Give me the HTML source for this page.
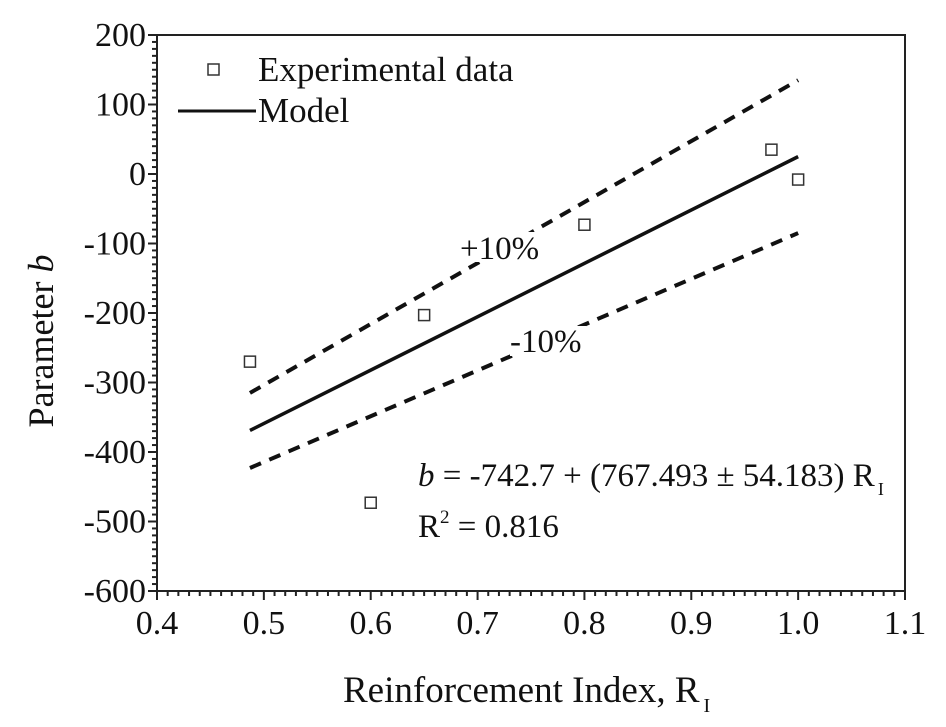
<!DOCTYPE html>
<html><head><meta charset="utf-8"><style>
body{margin:0;background:#fff}
svg text{font-family:"Liberation Serif",serif;fill:#111}
</style></head><body>
<svg width="946" height="722">
<g id="g"></g>
</svg>
<script>
const xs=[0.487,0.6,0.65,0.8,0.975,1.0];
const ys=[-270,-473,-203,-73,35,-8];
const modelX=[0.487,1.0];
const modelY=[-369,25];
const upperY=[-315,135];
const lowerY=[-423,-85];
const xTicks=[0.4,0.5,0.6,0.7,0.8,0.9,1.0,1.1];
const xTickLabels=["0.4","0.5","0.6","0.7","0.8","0.9","1.0","1.1"];
const yTicks=[200,100,0,-100,-200,-300,-400,-500,-600];
const yTickLabels=["200","100","0","-100","-200","-300","-400","-500","-600"];
const X=v=>157+(v-0.4)/0.7*748;
const Y=v=>591-(v+600)/800*556;
const ns="http://www.w3.org/2000/svg",g=document.getElementById('g');
function el(t,a,txt){const e=document.createElementNS(ns,t);for(const k in a)e.setAttribute(k,a[k]);if(txt!==undefined)e.textContent=txt;g.appendChild(e);return e;}
let e;
e=el('rect',{x:157,y:35,width:748,height:556,fill:'none',stroke:'#222','stroke-width':2});


for(let i=0;i<=70;i++){const v=0.4+i*0.01,maj=i%10==0;
e=el('line',{x1:X(v),x2:X(v),y1:591,y2:591+(maj?9:5),stroke:'#222','stroke-width':2});

}
for(let i=0;i<=80;i++){const v=-600+i*10,maj=i%10==0;
e=el('line',{x1:157-(maj?9:5),x2:157,y1:Y(v),y2:Y(v),stroke:'#222','stroke-width':2});

}
xTicks.forEach((v,i)=>{e=el('text',{x:X(v),y:634,'font-size':34,'text-anchor':'middle'},xTickLabels[i]);

});
yTicks.forEach((v,i)=>{e=el('text',{x:146,y:Y(v)+11,'font-size':34,'text-anchor':'end'},yTickLabels[i]);

});
e=el('text',{x:343,y:702,'font-size':37});
e.innerHTML='Reinforcement Index, R<tspan font-size="20" dy="10" dx="4">I</tspan>';


e=el('text',{x:0,y:0,'font-size':36,'text-anchor':'middle',transform:'translate(53,341) rotate(-90)'});
e.innerHTML='Parameter <tspan font-style="italic">b</tspan>';


e=el('line',{x1:X(modelX[0]),y1:Y(upperY[0]),x2:X(modelX[1]),y2:Y(upperY[1]),stroke:'#111','stroke-width':4,'stroke-dasharray':'12,9'});


e=el('line',{x1:X(modelX[0]),y1:Y(lowerY[0]),x2:X(modelX[1]),y2:Y(lowerY[1]),stroke:'#111','stroke-width':4,'stroke-dasharray':'12,9'});


e=el('line',{x1:X(modelX[0]),y1:Y(modelY[0]),x2:X(modelX[1]),y2:Y(modelY[1]),stroke:'#111','stroke-width':3.5});


xs.forEach((v,i)=>{e=el('rect',{x:X(v)-5.5,y:Y(ys[i])-5.5,width:11,height:11,fill:'#fff',stroke:'#333','stroke-width':1.5});

});
e=el('rect',{x:208,y:64,width:11,height:11,fill:'#fff',stroke:'#333','stroke-width':1.5});


e=el('text',{x:258,y:81,'font-size':35},'Experimental data');


e=el('line',{x1:178,x2:256,y1:111,y2:111,stroke:'#111','stroke-width':3});


e=el('text',{x:258,y:122,'font-size':35},'Model');


e=el('rect',{x:458,y:232,width:86,height:30,fill:'#fff'});


e=el('text',{x:460,y:259,'font-size':33},'+10%');


e=el('rect',{x:510,y:326,width:76,height:30,fill:'#fff'});


e=el('text',{x:510,y:352,'font-size':33},'-10%');


e=el('text',{x:418,y:486,'font-size':33});
e.innerHTML='<tspan font-style="italic">b</tspan> = -742.7 + (767.493 ± 54.183) R<tspan font-size="18" dy="9" dx="3">I</tspan>';


e=el('text',{x:418,y:537,'font-size':33});
e.innerHTML='R<tspan font-size="19" dy="-14">2</tspan><tspan dy="14"> = 0.816</tspan>';


</script>
</body></html>
